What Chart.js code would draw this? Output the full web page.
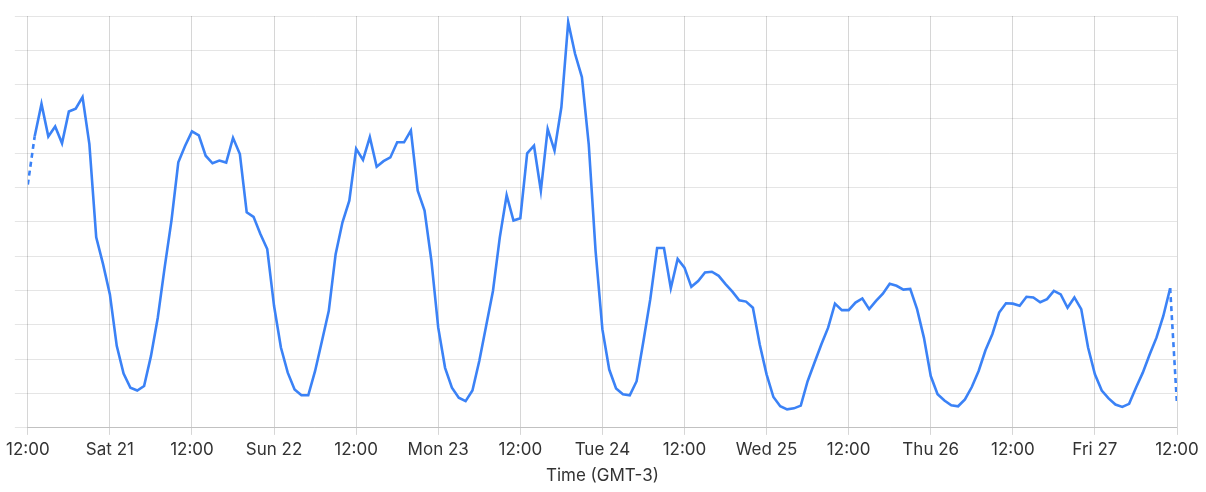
<!DOCTYPE html>
<html>
<head>
<meta charset="utf-8">
<script src="https://cdn.jsdelivr.net/npm/chart.js@4.4.1/dist/chart.umd.min.js"></script>
<style>
  html, body { margin: 0; padding: 0; background: #fff; }
  #wrap { width: 1206px; height: 492px; }
</style>
</head>
<body>
<div id="wrap"><canvas id="myChart"></canvas></div>
<script>
// hours since Fri 20 12:00 (GMT-3), one reading per hour
const hours = Array.from({ length: 169 }, (_, i) => i);

const values = [
  70.9, 84.9, 94.4, 84.9, 87.8, 82.9, 92.2, 93.0, 96.4, 82.7,
  55.5, 47.7, 38.9, 23.9, 15.8, 11.7, 10.9, 12.2, 20.9, 32.1,
  46.7, 60.4, 77.4, 82.2, 86.4, 85.2, 79.3, 77.1, 77.9, 77.3,
  84.5, 79.8, 62.8, 61.5, 56.5, 52.1, 35.5, 23.4, 16.1, 11.2,
  9.5, 9.5, 16.6, 25.3, 34.1, 50.6, 59.9, 66.2, 81.3, 78.1,
  84.7, 76.1, 77.7, 78.8, 83.2, 83.2, 86.6, 69.1, 63.3, 48.7,
  29.2, 17.5, 11.7, 8.8, 7.8, 10.9, 19.5, 29.7, 39.9, 55.5,
  67.8, 60.4, 61.1, 80.0, 82.2, 69.1, 87.1, 80.8, 93.4, 118.2,
  109.0, 102.2, 82.7, 51.6, 28.7, 17.0, 11.5, 9.8, 9.5, 13.6,
  25.3, 37.5, 52.4, 52.4, 40.7, 49.2, 46.7, 41.1, 42.8, 45.3,
  45.5, 44.3, 41.9, 39.7, 37.2, 36.8, 35.0, 24.3, 15.6, 9.0,
  6.3, 5.4, 5.7, 6.5, 13.6, 19.0, 24.3, 29.2, 36.2, 34.3,
  34.3, 36.5, 37.7, 34.6, 37.0, 39.1, 42.0, 41.4, 40.3, 40.5,
  34.6, 26.3, 15.1, 9.8, 8.0, 6.6, 6.3, 8.3, 11.9, 16.6,
  22.6, 27.3, 33.6, 36.3, 36.2, 35.6, 38.2, 38.0, 36.6, 37.5,
  39.9, 38.9, 35.0, 38.0, 34.6, 23.4, 15.6, 10.9, 8.6, 6.8,
  6.1, 7.0, 11.7, 16.1, 21.4, 26.3, 32.6, 40.7, 6.8
];

const tickLabels = [
  '12:00', 'Sat 21', '12:00', 'Sun 22', '12:00', 'Mon 23', '12:00', 'Tue 24',
  '12:00', 'Wed 25', '12:00', 'Thu 26', '12:00', 'Fri 27', '12:00'
];

const axisTitle = 'Time (GMT-3)';

const lastIdx = values.length - 1;
const textColor = '#333';

new Chart(document.getElementById('myChart'), {
  type: 'line',
  data: {
    datasets: [{
      data: hours.map((h, i) => ({ x: h, y: values[i] })),
      borderColor: '#3b82f6',
      borderWidth: 2.6,
      pointRadius: 0,
      tension: 0,
      fill: false,
      // first and last hour are partial -> dashed
      segment: {
        borderDash: ctx => (ctx.p0DataIndex === 0 || ctx.p1DataIndex === lastIdx) ? [5, 4] : undefined
      }
    }]
  },
  options: {
    responsive: true,
    maintainAspectRatio: false,
    animation: false,
    layout: { padding: { left: 14, right: 29, top: 16, bottom: 2 } },
    plugins: { legend: { display: false }, tooltip: { enabled: false } },
    scales: {
      x: {
        type: 'linear',
        min: 0,
        max: 168,
        grid: { color: 'rgba(0,0,0,0.16)', tickLength: 7 },
        border: { color: 'rgba(0,0,0,0.16)' },
        ticks: {
          stepSize: 12,
          autoSkip: false,
          maxRotation: 0,
          padding: 6,
          color: textColor,
          font: { family: 'Inter', size: 17, lineHeight: 1.1 },
          callback: (value, index) => tickLabels[index]
        },
        title: {
          display: true,
          text: axisTitle,
          color: textColor,
          font: { family: 'Inter', size: 17 },
          padding: { top: 0, bottom: 4 }
        }
      },
      y: {
        min: 0,
        max: 120,
        grid: { color: 'rgba(0,0,0,0.1)', tickLength: 13 },
        border: { display: false },
        ticks: { stepSize: 10, display: false }
      }
    }
  }
});
</script>
</body>
</html>
